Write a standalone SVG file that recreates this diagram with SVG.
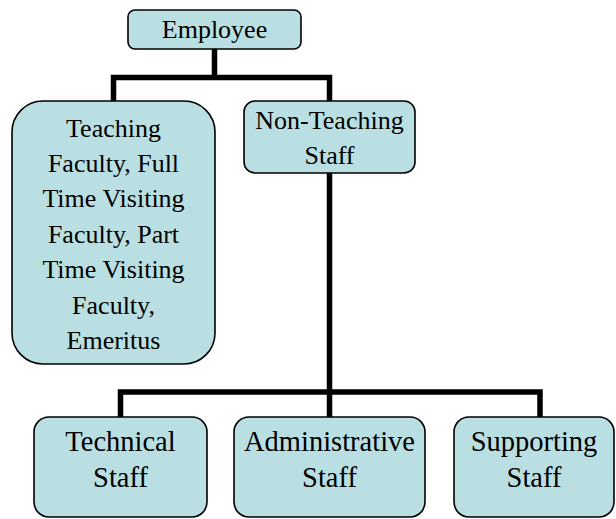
<svg xmlns="http://www.w3.org/2000/svg" width="616" height="519" viewBox="0 0 616 519" font-family="Liberation Serif, DejaVu Serif, serif">
<style>
.box{fill:#BADFE3;stroke:#000;stroke-width:1.6}
.t{font-size:26px;fill:#000;text-anchor:middle}
.b{font-size:28.5px}
.c{fill:none;stroke:#000;stroke-width:5.5;stroke-linejoin:miter;stroke-linecap:butt}
</style>
<rect width="616" height="519" fill="#fff"/>
<g id="connectors">
<path class="c" d="M214.5,49 V77.5 M113.5,101 V77.5 H329.5 V101"/>
<path class="c" d="M329.5,173 V417 M120.5,417 V392 H540 V417"/>
</g>
<g id="employee">
<rect class="box" x="128" y="10" width="173" height="39" rx="7"/>
<text class="t" font-family="Liberation Serif, serif" x="214.5" y="38">Employee</text>
</g>
<g id="teaching" font-family="Liberation Serif, serif">
<rect class="box" x="12" y="101" width="203" height="263" rx="31"/>
<text class="t" x="113.5" y="136.5">Teaching</text>
<text class="t" x="113.5" y="171.9">Faculty, Full</text>
<text class="t" x="113.5" y="207.3">Time Visiting</text>
<text class="t" x="113.5" y="242.7">Faculty, Part</text>
<text class="t" x="113.5" y="278.1">Time Visiting</text>
<text class="t" x="113.5" y="313.5">Faculty,</text>
<text class="t" x="113.5" y="348.9">Emeritus</text>
</g>
<g id="nonteaching" font-family="Liberation Serif, serif">
<rect class="box" x="244" y="101" width="171" height="72" rx="11"/>
<text class="t" x="329.5" y="128.5">Non-Teaching</text>
<text class="t" x="329.5" y="164">Staff</text>
</g>
<g id="technical" font-family="Liberation Serif, serif">
<rect class="box" x="34" y="417" width="173" height="100" rx="15"/>
<text class="t b" x="120.5" y="451">Technical</text>
<text class="t b" x="120.5" y="487">Staff</text>
</g>
<g id="administrative" font-family="Liberation Serif, serif">
<rect class="box" x="234" y="417" width="191" height="100" rx="15"/>
<text class="t b" x="329.5" y="451">Administrative</text>
<text class="t b" x="329.5" y="487">Staff</text>
</g>
<g id="supporting" font-family="Liberation Serif, serif">
<rect class="box" x="454" y="417" width="160" height="100" rx="15"/>
<text class="t b" x="534" y="451">Supporting</text>
<text class="t b" x="534" y="487">Staff</text>
</g>
</svg>
